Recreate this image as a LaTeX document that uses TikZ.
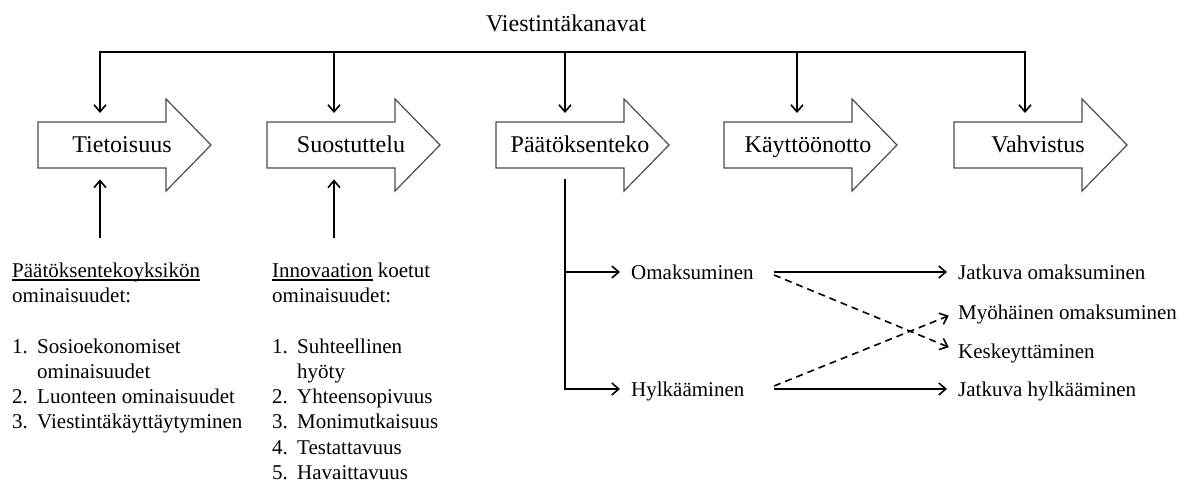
\documentclass[tikz,border=0pt]{standalone}
\usepackage{fontspec}
\setmainfont{Liberation Serif}
\usetikzlibrary{arrows.meta}
\newcommand\myul[1]{\setbox0\hbox{#1}\rlap{\rule[-3.5pt]{\wd0}{1.2pt}}\box0\relax}
\begin{document}
\begin{tikzpicture}[x=1pt,y=-1pt,
  flow/.style={draw=black!70, line width=1.2pt, fill=white, line join=miter},
  shaft/.style={draw=none, minimum width=128pt, minimum height=46pt, inner sep=0pt, anchor=north west},
  lbl/.style={font=\fontsize{24}{28}\selectfont, anchor=base, inner sep=0pt},
  txt/.style={font=\fontsize{21}{25}\selectfont, anchor=base west, inner sep=0pt},
  row/.style={txt, text height=16pt, text depth=2pt},
  line/.style={line width=1.6pt},
  conn/.style={line width=1.6pt, -{Straight Barb[length=7pt,width=12pt]}},
  dconn/.style={conn, dash pattern=on 7pt off 5pt}
]
\useasboundingbox (0,0) rectangle (1188,484);

% title
\node[lbl] (top) at (566,32) {Viestintäkanavat};

% stage arrows
\foreach \x/\n/\t in {38/1/Tietoisuus, 267/2/Suostuttelu, 496/3/Päätöksenteko, 724/4/Käyttöönotto, 954/5/Vahvistus}{
  \draw[flow] (\x,122) -- ++(128,0) -- ++(0,-23) -- ++(45,46) -- ++(-45,46) -- ++(0,-23) -- ++(-128,0) -- cycle;
  \node[shaft] (b\n) at (\x,122) {};
  \node[lbl] (a\n) at (\x+84,152) {\t};
}

% channel bar
\foreach \n/\x in {1/100,2/334,3/565,4/797,5/1025}{
  \coordinate (d\n) at (\x,52);
}
\draw[line, line cap=rect] (d1) -- (d5);
\foreach \n in {1,...,5}{
  \draw[conn, shorten >=9pt] (d\n) -- (d\n |- b\n.north);
}

% up arrows
\coordinate (u1) at (100,238);
\coordinate (u2) at (334,238);
\draw[conn, shorten >=11pt] (u1) -- (u1 |- b1.south);
\draw[conn, shorten >=11pt] (u2) -- (u2 |- b2.south);

% left column
\node[txt] (c1a) at (12,277) {\myul{Päätöksentekoyksikön}};
\node[txt] (c1b) at (12,302.3) {ominaisuudet:};
\node[txt] (c1c) at (12,353) {\makebox[25pt][l]{1.}Sosioekonomiset};
\node[txt] (c1d) at (37,378.3) {ominaisuudet};
\node[txt] (c1e) at (12,403.6) {\makebox[25pt][l]{2.}Luonteen ominaisuudet};
\node[txt] (c1f) at (12,428.9) {\makebox[25pt][l]{3.}Viestintäkäyttäytyminen};

% second column
\node[txt] (c2a) at (272,277) {\myul{Innovaation} koetut};
\node[txt] (c2b) at (272,302.3) {ominaisuudet:};
\node[txt] (c2c) at (272,353) {\makebox[25pt][l]{1.}Suhteellinen};
\node[txt] (c2d) at (297,378.3) {hyöty};
\node[txt] (c2e) at (272,403.6) {\makebox[25pt][l]{2.}Yhteensopivuus};
\node[txt] (c2f) at (272,428.9) {\makebox[25pt][l]{3.}Monimutkaisuus};
\node[txt] (c2g) at (272,454.2) {\makebox[25pt][l]{4.}Testattavuus};
\node[txt] (c2h) at (272,479.5) {\makebox[25pt][l]{5.}Havaittavuus};

% decision outcomes
\node[row] (om) at (631,279) {Omaksuminen};
\node[row] (hy) at (631,396) {Hylkääminen};
\node[row] (jo) at (958,279) {Jatkuva omaksuminen};
\node[row] (mo) at (958,319) {Myöhäinen omaksuminen};
\node[row] (ke) at (958,358) {Keskeyttäminen};
\node[row] (jh) at (958,396) {Jatkuva hylkääminen};

\coordinate (p0) at (565,179);
\coordinate (p1) at (565,272);
\coordinate (p2) at (565,389);
\draw[conn, shorten >=11pt] (p0) -- (p2) -- (hy.west);
\draw[conn, shorten >=11pt] (p1) -- (om.west);

\coordinate (omR) at (774,272);
\coordinate (omD) at (774,275);
\coordinate (hyR) at (774,389);
\coordinate (hyD) at (774,386);
\draw[conn, shorten >=11pt] (omR) -- (jo.west);
\draw[conn, shorten >=11pt] (hyR) -- (jh.west);
\draw[dconn, shorten >=10pt] (omD) -- (ke.west);
\draw[dconn, shorten >=10pt] (hyD) -- (mo.west);
\end{tikzpicture}
\end{document}
